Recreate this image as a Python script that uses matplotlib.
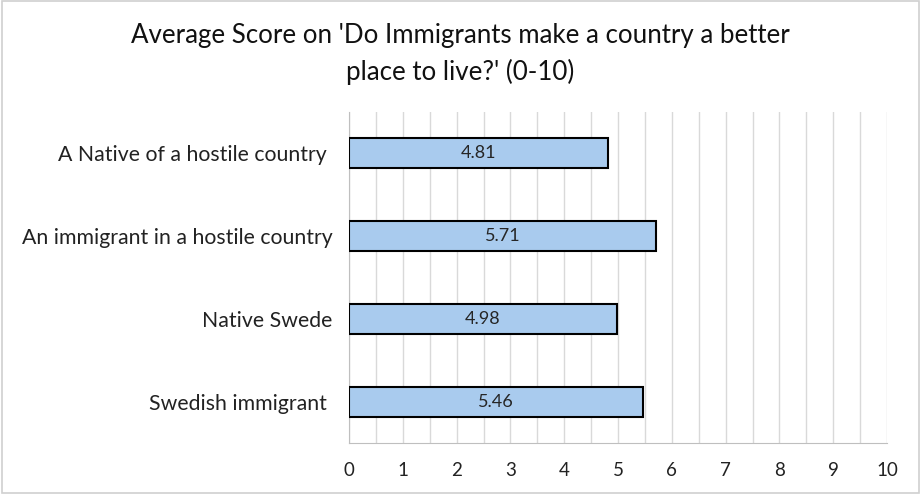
import matplotlib
matplotlib.use("Agg")
import matplotlib.pyplot as plt
from matplotlib.patches import Rectangle

categories = ["A Native of a hostile country ", "An immigrant in a hostile country",
              "Native Swede", "Swedish immigrant "]
values = [4.81, 5.71, 4.98, 5.46]
value_labels = ["4.81", "5.71", "4.98", "5.46"]
xticks = list(range(0, 11))

plt.rcParams['font.family'] = ['Lato', 'DejaVu Sans']

fig = plt.figure(figsize=(9.21, 4.94), dpi=100)
ax = fig.add_axes([349/921, 1-443/494, (887-349)/921, (443-112)/494])

ypos = list(range(len(categories)))
ax.barh(ypos, values, height=0.36, color="#A9CBEE", edgecolor="black", linewidth=1.5, zorder=3)
for y, v, lab in zip(ypos, values, value_labels):
    ax.text(v/2, y, lab, ha="center", va="center", fontsize=13, color="#262626", zorder=4)

ax.set_xlim(0, 10)
ax.set_ylim(3.5, -0.5)
ax.set_xticks(xticks)
ax.set_xticks([i + 0.5 for i in range(10)], minor=True)
ax.set_xticklabels([str(t) for t in xticks], fontsize=13.5, color="#222222")
ax.set_yticks(ypos)
ax.set_yticklabels(categories, fontsize=15.3, color="#222222")
ax.tick_params(axis="x", length=0, pad=14)
ax.tick_params(axis="y", length=0, pad=12)
ax.tick_params(which="minor", length=0)
ax.grid(axis="x", which="both", color="#D9D9D9", linewidth=1, zorder=0)
for s in ["top", "right"]:
    ax.spines[s].set_visible(False)
ax.spines["left"].set_color("#BFBFBF")
ax.spines["bottom"].set_color("#BFBFBF")

fig.text(0.5, 1-36/494, "Average Score on 'Do Immigrants make a country a better",
         ha="center", va="center", fontsize=18.6, color="#111111")
fig.text(0.5, 1-72/494, "place to live?' (0-10)",
         ha="center", va="center", fontsize=18.6, color="#111111")

fig.add_artist(Rectangle((0.002, 0.003), 0.996, 0.994, transform=fig.transFigure,
                         fill=False, edgecolor="#D0D0D0", linewidth=1.2))
fig.savefig("out.png", dpi=100)
